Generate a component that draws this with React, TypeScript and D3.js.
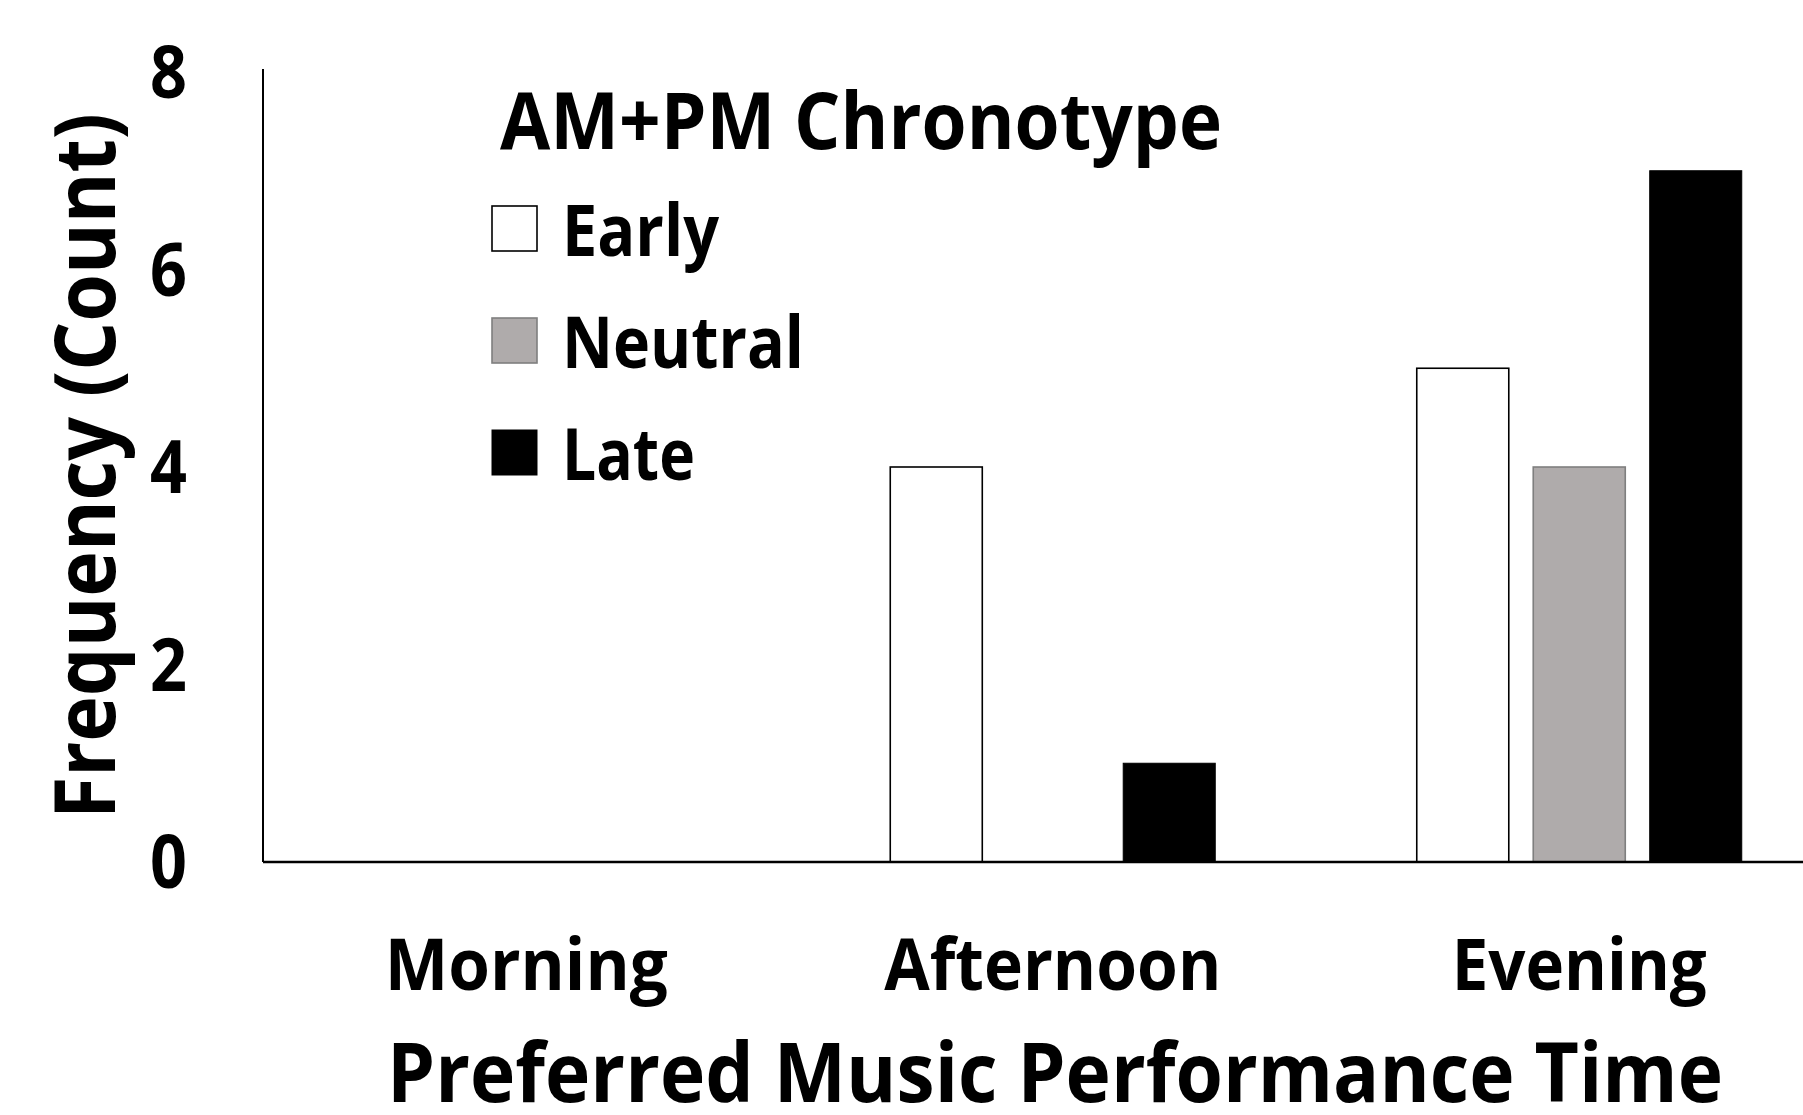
import React from "react";
import * as d3 from "d3";

// Preferred performance time vs. chronotype counts
const categories = ["Morning", "Afternoon", "Evening"];
const seriesNames = ["Early", "Neutral", "Late"];
const earlyCounts = [0, 4, 5];
const neutralCounts = [0, 0, 4];
const lateCounts = [0, 1, 7];
const yTicks = [0, 2, 4, 6, 8];

const legendTitle = "AM+PM Chronotype";
const yTitle = "Frequency (Count)";
const xTitle = "Preferred Music Performance Time";

const W = 1803;
const H = 1115;
const FONT = "'Open Sans', 'Noto Sans', sans-serif";

const seriesStyle: Record<string, { fill: string; stroke: string; sw: number }> = {
  Early: { fill: "#ffffff", stroke: "#000000", sw: 1.6 },
  Neutral: { fill: "#afabab", stroke: "#7f7f7f", sw: 1.6 },
  Late: { fill: "#000000", stroke: "#000000", sw: 1 },
};

const catWidths: Record<string, number> = { Morning: 283, Afternoon: 337, Evening: 255 };
const legendWidths: Record<string, number> = { Early: 157, Neutral: 242, Late: 133 };

export default function App() {
  const left = 263;
  const bandW = 526.5;
  const x0 = d3.scaleBand<string>().domain(categories).range([left, left + bandW * 3]).padding(0);
  const x1 = d3
    .scaleBand<string>()
    .domain(seriesNames)
    .range([0, x0.bandwidth()])
    .paddingInner(0.21)
    .paddingOuter(0.865);
  const y = d3.scaleLinear().domain([0, 8]).range([862, 72]);

  const values: Record<string, number[]> = {
    Early: earlyCounts,
    Neutral: neutralCounts,
    Late: lateCounts,
  };

  const bars: React.ReactNode[] = [];
  categories.forEach((c, ci) => {
    seriesNames.forEach((s) => {
      const v = values[s][ci];
      if (!v) return;
      const st = seriesStyle[s];
      bars.push(
        <rect
          key={c + s}
          x={(x0(c) as number) + (x1(s) as number)}
          y={y(v)}
          width={x1.bandwidth()}
          height={y(0) - y(v)}
          fill={st.fill}
          stroke={st.stroke}
          strokeWidth={st.sw}
        />
      );
    });
  });

  return (
    <svg
      width={W}
      height={H}
      style={{ position: "absolute", left: 0, top: 0, background: "#fff" }}
      fontFamily={FONT}
      fontWeight={700}
    >
      <rect x={0} y={0} width={W} height={H} fill="#fff" />
      {bars}
      {/* axes */}
      <line x1={left} x2={left} y1={69} y2={y(0)} stroke="#000" strokeWidth={2} />
      <line x1={left} x2={W} y1={y(0)} y2={y(0)} stroke="#000" strokeWidth={2.5} />
      {yTicks.map((t) => (
        <text
          key={t}
          x={187}
          y={y(t) + 26}
          textAnchor="end"
          fontSize={73}
          textLength={37}
          lengthAdjust="spacingAndGlyphs"
        >
          {t}
        </text>
      ))}
      {categories.map((c) => (
        <text
          key={c}
          x={(x0(c) as number) + x0.bandwidth() / 2}
          y={990}
          textAnchor="middle"
          fontSize={71}
          textLength={catWidths[c]}
          lengthAdjust="spacingAndGlyphs"
        >
          {c}
        </text>
      ))}
      <text
        x={1055}
        y={1102}
        textAnchor="middle"
        fontSize={83}
        textLength={1336}
        lengthAdjust="spacingAndGlyphs"
      >
        {xTitle}
      </text>
      <text
        transform={`translate(115,466) rotate(-90)`}
        textAnchor="middle"
        fontSize={84}
        textLength={706}
        lengthAdjust="spacingAndGlyphs"
      >
        {yTitle}
      </text>
      {/* legend */}
      <text x={500} y={149} fontSize={78} textLength={722} lengthAdjust="spacingAndGlyphs">
        {legendTitle}
      </text>
      {seriesNames.map((s, i) => {
        const st = seriesStyle[s];
        const top = 206 + i * 112;
        return (
          <g key={s}>
            <rect
              x={492}
              y={top}
              width={45}
              height={45}
              fill={st.fill}
              stroke={st.stroke}
              strokeWidth={st.sw}
            />
            <text
              x={562}
              y={top + 50}
              fontSize={71}
              textLength={legendWidths[s]}
              lengthAdjust="spacingAndGlyphs"
            >
              {s}
            </text>
          </g>
        );
      })}
    </svg>
  );
}
